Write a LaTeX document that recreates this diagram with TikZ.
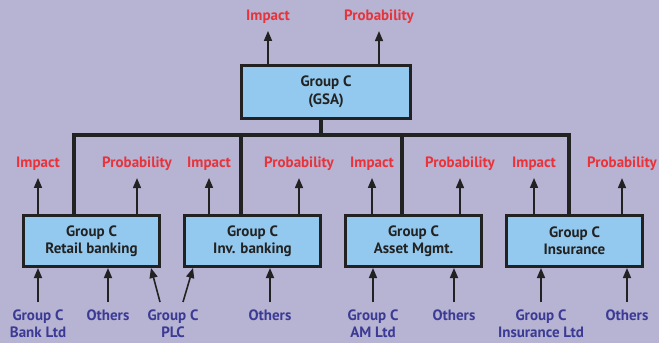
\documentclass[tikz,border=0pt]{standalone}
\usepackage{fontspec}
\setmainfont{PT Sans}
\definecolor{bglilac}{HTML}{B7B3D3}
\definecolor{boxblue}{HTML}{93C9EE}
\definecolor{riskred}{HTML}{E8333A}
\definecolor{srcblue}{HTML}{3B3A94}
\definecolor{inkdark}{HTML}{222222}
\usetikzlibrary{positioning, arrows.meta}

\begin{document}
\begin{tikzpicture}[
    x=1pt, y=-1pt,
    >={Triangle[width=8pt,length=10pt]},
    box/.style={rectangle, draw=inkdark, line width=3pt, fill=boxblue,
                minimum width=136pt, minimum height=51pt, align=center,
                font=\fontsize{15}{17}\selectfont\bfseries, text=inkdark},
    risk/.style={font=\fontsize{15}{16}\selectfont\bfseries, text=riskred, inner sep=1pt},
    src/.style={font=\fontsize{15}{17}\selectfont\bfseries, text=srcblue, align=center, inner sep=1pt},
    arr/.style={->, inkdark, line width=1.6pt},
    link/.style={inkdark, line width=3.2pt},
  ]
  \fill[bglilac] (0,0) rectangle (659,343);
  \useasboundingbox (0,0) rectangle (659,343);

  % top level
  \node[box, minimum width=169pt, minimum height=53pt,
        font=\fontsize{15}{18}\selectfont\bfseries] (gsa) at (326,92) {Group C\\(GSA)};
  \node[risk] (gsaimp) at (268,17) {Impact};
  \node[risk] (gsaprob) at (379,17) {Probability};
  \draw[arr, shorten >=6pt] (gsa.north -| gsaimp) -- (gsaimp.south);
  \draw[arr, shorten >=6pt] (gsa.north -| gsaprob) -- (gsaprob.south);

  % divisions
  \node[box] (retail) at (91.5,241) {Group C\\Retail banking};
  \node[box, right=22pt of retail] (invest) {Group C\\Inv. banking};
  \node[box, right=22pt of invest] (asset) {Group C\\Asset Mgmt.};
  \node[box, right=22pt of asset] (insure) {Group C\\Insurance};

  \coordinate (hub) at (321,135);
  \draw[link] (gsa.south -| hub) -- (hub);
  \draw[link] (retail.north -| 74,0) |- (hub);
  \draw[link] (invest.north -| 241,0) |- (hub);
  \draw[link] (asset.north -| 402,0) |- (hub);
  \draw[link] (insure.north -| 569,0) |- (hub);

  % outputs
  \node[risk] (rbimp) at (38,164) {Impact};
  \node[risk] (rbprob) at (137,164) {Probability};
  \node[risk] (ibimp) at (209,164) {Impact};
  \node[risk] (ibprob) at (299,164) {Probability};
  \node[risk] (amimp) at (372,164) {Impact};
  \node[risk] (amprob) at (460,164) {Probability};
  \node[risk] (inimp) at (534,164) {Impact};
  \node[risk] (inprob) at (622,164) {Probability};
  \foreach \b/\o in {retail/rbimp, retail/rbprob, invest/ibimp, invest/ibprob,
                     asset/amimp, asset/amprob, insure/inimp, insure/inprob}
    \draw[arr, shorten >=6pt] (\b.north -| \o) -- (\o.south);

  % inputs
  \node[src, anchor=north] (bank) at (38,309) {Group C\\Bank Ltd};
  \node[src, anchor=north] (rbother) at (108,309) {Others};
  \node[src, anchor=north] (plc) at (173,309) {Group C\\PLC};
  \node[src, anchor=north] (iboth) at (270,309) {Others};
  \node[src, anchor=north] (amltd) at (373,309) {Group C\\AM Ltd};
  \node[src, anchor=north] (amoth) at (454,309) {Others};
  \node[src, anchor=north] (inltd) at (541,309) {Group C\\Insurance Ltd};
  \node[src, anchor=north] (inoth) at (627,309) {Others};
  \foreach \s/\b in {bank/retail, rbother/retail, iboth/invest,
                     amltd/asset, amoth/asset, inltd/insure, inoth/insure}
    \draw[arr, shorten <=7pt] (\s.north) -- (\b.south -| \s);
  \draw[arr] ([xshift=-13pt, yshift=7pt]plc.north) -- ([xshift=-10pt]retail.south east);
  \draw[arr] ([xshift=10pt, yshift=7pt]plc.north) -- ([xshift=10pt]invest.south west);
\end{tikzpicture}
\end{document}
